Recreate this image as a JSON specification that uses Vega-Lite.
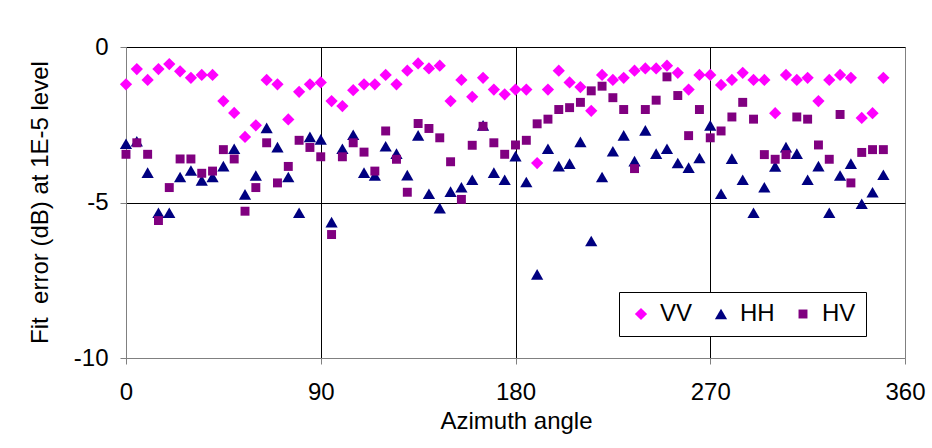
{
  "$schema": "https://vega.github.io/schema/vega-lite/v6.json",
  "width": 779,
  "height": 311,
  "autosize": "none",
  "padding": {"left": 126, "top": 47, "right": 27, "bottom": 90},
  "background": "white",
  "config": {
    "font": "Liberation Sans",
    "view": {"stroke": "#808080", "strokeWidth": 1}
  },
  "data": {
    "values": [
      {"angle": 0, "VV": -1.20, "HH": -3.11, "HV": -3.45},
      {"angle": 5, "VV": -0.71, "HH": -3.03, "HV": -3.08},
      {"angle": 10, "VV": -1.06, "HH": -4.04, "HV": -3.45},
      {"angle": 15, "VV": -0.71, "HH": -5.33, "HV": -5.58},
      {"angle": 20, "VV": -0.55, "HH": -5.33, "HV": -4.52},
      {"angle": 25, "VV": -0.78, "HH": -4.18, "HV": -3.60},
      {"angle": 30, "VV": -0.99, "HH": -3.97, "HV": -3.60},
      {"angle": 35, "VV": -0.90, "HH": -4.29, "HV": -4.06},
      {"angle": 40, "VV": -0.90, "HH": -4.18, "HV": -3.99},
      {"angle": 45, "VV": -1.74, "HH": -3.83, "HV": -3.30},
      {"angle": 50, "VV": -2.12, "HH": -3.27, "HV": -3.60},
      {"angle": 55, "VV": -2.89, "HH": -4.74, "HV": -5.28},
      {"angle": 60, "VV": -2.52, "HH": -4.13, "HV": -4.52},
      {"angle": 65, "VV": -1.06, "HH": -2.60, "HV": -3.08},
      {"angle": 70, "VV": -1.20, "HH": -3.22, "HV": -4.37},
      {"angle": 75, "VV": -2.33, "HH": -4.18, "HV": -3.84},
      {"angle": 80, "VV": -1.44, "HH": -5.33, "HV": -3.00},
      {"angle": 85, "VV": -1.20, "HH": -2.89, "HV": -3.23},
      {"angle": 90, "VV": -1.14, "HH": -2.97, "HV": -3.53},
      {"angle": 95, "VV": -1.74, "HH": -5.63, "HV": -6.03},
      {"angle": 100, "VV": -1.90, "HH": -3.27, "HV": -3.53},
      {"angle": 105, "VV": -1.39, "HH": -2.82, "HV": -3.08},
      {"angle": 110, "VV": -1.20, "HH": -4.04, "HV": -3.38},
      {"angle": 115, "VV": -1.20, "HH": -4.13, "HV": -3.99},
      {"angle": 120, "VV": -0.90, "HH": -3.19, "HV": -2.70},
      {"angle": 125, "VV": -1.20, "HH": -3.43, "HV": -3.61},
      {"angle": 130, "VV": -0.76, "HH": -4.12, "HV": -4.67},
      {"angle": 135, "VV": -0.53, "HH": -2.84, "HV": -2.46},
      {"angle": 140, "VV": -0.69, "HH": -4.72, "HV": -2.62},
      {"angle": 145, "VV": -0.60, "HH": -5.18, "HV": -2.92},
      {"angle": 150, "VV": -1.74, "HH": -4.65, "HV": -3.69},
      {"angle": 155, "VV": -1.06, "HH": -4.51, "HV": -4.90},
      {"angle": 160, "VV": -1.60, "HH": -4.27, "HV": -3.16},
      {"angle": 165, "VV": -0.99, "HH": -2.52, "HV": -2.55},
      {"angle": 170, "VV": -1.37, "HH": -4.04, "HV": -3.08},
      {"angle": 175, "VV": -1.52, "HH": -4.27, "HV": -3.45},
      {"angle": 180, "VV": -1.37, "HH": -3.51, "HV": -3.15},
      {"angle": 185, "VV": -1.37, "HH": -4.34, "HV": -3.00},
      {"angle": 190, "VV": -3.73, "HH": -7.31, "HV": -2.47},
      {"angle": 195, "VV": -1.37, "HH": -3.27, "HV": -2.32},
      {"angle": 200, "VV": -0.76, "HH": -3.83, "HV": -2.01},
      {"angle": 205, "VV": -1.14, "HH": -3.75, "HV": -1.95},
      {"angle": 210, "VV": -1.29, "HH": -3.05, "HV": -1.78},
      {"angle": 215, "VV": -2.05, "HH": -6.24, "HV": -1.41},
      {"angle": 220, "VV": -0.90, "HH": -4.18, "HV": -1.26},
      {"angle": 225, "VV": -1.06, "HH": -3.35, "HV": -1.63},
      {"angle": 230, "VV": -0.99, "HH": -2.84, "HV": -2.01},
      {"angle": 235, "VV": -0.76, "HH": -3.67, "HV": -3.91},
      {"angle": 240, "VV": -0.69, "HH": -2.68, "HV": -2.01},
      {"angle": 245, "VV": -0.69, "HH": -3.43, "HV": -1.71},
      {"angle": 250, "VV": -0.60, "HH": -3.27, "HV": -0.96},
      {"angle": 255, "VV": -0.83, "HH": -3.73, "HV": -1.56},
      {"angle": 260, "VV": -1.37, "HH": -3.88, "HV": -2.85},
      {"angle": 265, "VV": -0.90, "HH": -3.57, "HV": -2.01},
      {"angle": 270, "VV": -0.90, "HH": -2.52, "HV": -2.92},
      {"angle": 275, "VV": -1.22, "HH": -4.72, "HV": -2.70},
      {"angle": 280, "VV": -1.06, "HH": -3.59, "HV": -2.25},
      {"angle": 285, "VV": -0.83, "HH": -4.27, "HV": -1.78},
      {"angle": 290, "VV": -1.06, "HH": -5.33, "HV": -2.32},
      {"angle": 295, "VV": -1.06, "HH": -4.51, "HV": -3.46},
      {"angle": 300, "VV": -2.13, "HH": -3.84, "HV": -3.61},
      {"angle": 305, "VV": -0.90, "HH": -3.22, "HV": -3.46},
      {"angle": 310, "VV": -1.06, "HH": -3.43, "HV": -2.25},
      {"angle": 315, "VV": -0.99, "HH": -4.27, "HV": -2.32},
      {"angle": 320, "VV": -1.74, "HH": -3.83, "HV": -3.15},
      {"angle": 325, "VV": -1.06, "HH": -5.33, "HV": -3.61},
      {"angle": 330, "VV": -0.90, "HH": -4.13, "HV": -2.17},
      {"angle": 335, "VV": -0.99, "HH": -3.75, "HV": -4.37},
      {"angle": 340, "VV": -2.28, "HH": -5.04, "HV": -3.39},
      {"angle": 345, "VV": -2.13, "HH": -4.67, "HV": -3.30},
      {"angle": 350, "VV": -0.99, "HH": -4.11, "HV": -3.30}
    ]
  },
  "transform": [{"fold": ["VV", "HH", "HV"], "as": ["pol", "err"]}],
  "mark": {"type": "point", "filled": true, "opacity": 1, "strokeWidth": 0, "clip": false},
  "encoding": {
    "x": {
      "field": "angle",
      "type": "quantitative",
      "scale": {"domain": [0, 360], "nice": false, "zero": false},
      "axis": {
        "values": [0, 90, 180, 270, 360],
        "grid": true,
        "gridColor": {"condition": {"test": "datum.value == 0 || datum.value == 360", "value": "transparent"}, "value": "#000000"},
        "gridWidth": 1,
        "domainColor": "#808080",
        "tickColor": "#808080",
        "tickSize": 6,
        "labelFontSize": 24,
        "labelColor": "#000000",
        "labelPadding": 16,
        "labelFlush": false,
        "title": "Azimuth angle",
        "titleFontSize": 24,
        "titleFontWeight": "normal",
        "titleColor": "#000000",
        "titleBaseline": "alphabetic",
        "titleX": 390,
        "titleY": 70
      }
    },
    "y": {
      "field": "err",
      "type": "quantitative",
      "scale": {"domain": [-10, 0], "nice": false, "zero": false},
      "axis": {
        "values": [-10, -5, 0],
        "grid": true,
        "gridColor": {"condition": {"test": "datum.value == -10", "value": "transparent"}, "value": "#000000"},
        "gridWidth": 1,
        "domainColor": "#808080",
        "tickColor": "#808080",
        "tickSize": 6,
        "labelFontSize": 24,
        "labelColor": "#000000",
        "labelPadding": 12,
        "labelFlush": false,
        "labelExpr": "'' + datum.value",
        "title": "Fit\u00a0 error (dB) at 1E-5 level",
        "titleFontSize": 24,
        "titleFontWeight": "normal",
        "titleColor": "#000000",
        "titleAngle": -90,
        "titleAlign": "center",
        "titleBaseline": "alphabetic",
        "titleX": -79,
        "titleY": 155
      }
    },
    "color": {
      "field": "pol",
      "type": "nominal",
      "scale": {"domain": ["VV", "HH", "HV"], "range": ["#FF00FF", "#000080", "#800080"]},
      "legend": {
        "orient": "none",
        "legendX": 493,
        "legendY": 245,
        "direction": "horizontal",
        "title": null,
        "strokeColor": "#000000",
        "fillColor": "#FFFFFF",
        "padding": 10,
        "labelFontSize": 24,
        "labelColor": "#000000",
        "symbolSize": 110,
        "symbolStrokeWidth": 0,
        "symbolOffset": 0,
        "labelOffset": 7,
        "columnPadding": 16
      }
    },
    "shape": {
      "field": "pol",
      "type": "nominal",
      "scale": {"domain": ["VV", "HH", "HV"], "range": ["diamond", "triangle-up", "square"]}
    },
    "size": {
      "field": "pol",
      "type": "nominal",
      "scale": {"type": "ordinal", "domain": ["VV", "HH", "HV"], "range": [150, 150, 80]},
      "legend": null
    }
  }
}
